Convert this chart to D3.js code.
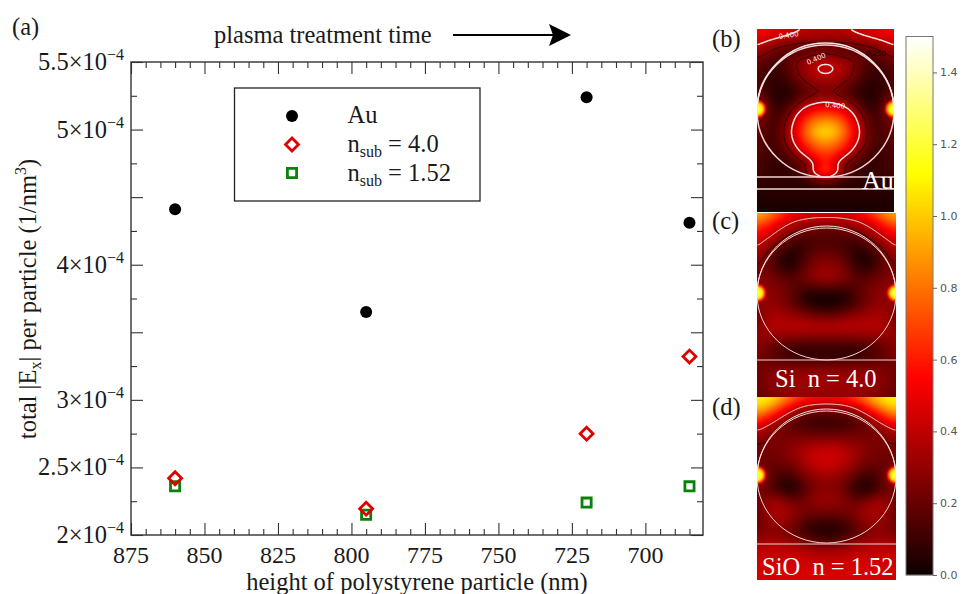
<!DOCTYPE html>
<html>
<head>
<meta charset="utf-8">
<script src="https://cdn.jsdelivr.net/npm/d3@7"></script>
<style>
  html, body { margin: 0; padding: 0; background: #fff; }
  svg { display: block; }
  text { font-family: "Liberation Serif", serif; fill: #1a1a1a; }
</style>
</head>
<body>
<div id="chart"></div>
<script>
// heights of the particle (nm), y values in units of 1e-4
const heights = [860, 795, 720, 685];
const au = [4.41, 3.65, 5.24, 4.31];
const nSub40 = [2.42, 2.195, 2.75, 3.32];
const nSub152 = [2.36, 2.15, 2.24, 2.36];

const xMajor = [875, 850, 825, 800, 775, 750, 725, 700];
const xMinor = [870, 865, 860, 855, 845, 840, 835, 830, 820, 815, 810, 805, 795, 790, 785, 780,
  770, 765, 760, 755, 745, 740, 735, 730, 720, 715, 710, 705, 695, 690, 685];
const yMajor = [2, 2.5, 3, 3.5, 4, 4.5, 5, 5.5];
const yMinor = [2.25, 2.75, 3.25, 3.75, 4.25, 4.75, 5.25];
const yLabelled = [2, 2.5, 3, 4, 5, 5.5];

const legendLabels = ["Au", "n", "n"];
const legendSubs = ["", "sub", "sub"];
const legendRest = ["", " = 4.0", " = 1.52"];

const barTicks = [0, 0.2, 0.4, 0.6, 0.8, 1.0, 1.2, 1.4];
const hotValues = [0, 0.0625, 0.5475, 1.119, 1.5];
const hotColors = ["#0a0000", "#2a0000", "#ff0000", "#ffff00", "#ffffff"];

// left half of each field map, edge to centre (the map is mirrored around the centre column)
const fieldB = [
  [.55,.53,.50,.47,.43,.40,.38,.37],
  [.50,.46,.42,.38,.34,.33,.33,.33],
  [.40,.33,.28,.25,.22,.20,.20,.20],
  [.30,.25,.18,.14,.15,.18,.20,.22],
  [.22,.16,.12,.16,.26,.31,.37,.39],
  [.18,.12,.10,.15,.25,.33,.41,.45],
  [.15,.10,.08,.12,.22,.30,.36,.38],
  [.16,.10,.06,.08,.15,.22,.28,.29],
  [.20,.10,.05,.05,.10,.18,.22,.24],
  [.35,.15,.06,.08,.17,.28,.34,.37],
  [.60,.20,.08,.14,.30,.45,.52,.55],
  [.40,.17,.12,.22,.42,.60,.72,.76],
  [.25,.15,.13,.28,.48,.72,.90,.95],
  [.20,.14,.14,.30,.52,.78,.98,1.05],
  [.18,.13,.14,.28,.47,.70,.85,.92],
  [.17,.12,.12,.22,.38,.58,.72,.76],
  [.15,.11,.10,.15,.26,.40,.58,.64],
  [.14,.10,.08,.10,.16,.22,.42,.62],
  [.12,.10,.08,.08,.10,.28,.50,.72],
  [.08,.08,.08,.08,.08,.08,.20,.30],
  [.06,.06,.06,.06,.06,.06,.06,.06],
  [.05,.05,.05,.05,.05,.05,.05,.05],
  [.04,.04,.04,.04,.04,.04,.04,.04],
  [.04,.04,.04,.04,.04,.04,.04,.04]
];
const fieldC = [
  [.95,.88,.75,.62,.52,.48,.46,.46],
  [.80,.70,.55,.44,.38,.36,.35,.35],
  [.62,.52,.42,.34,.28,.24,.20,.20],
  [.50,.42,.32,.22,.16,.15,.15,.15],
  [.42,.30,.22,.14,.10,.12,.14,.15],
  [.32,.24,.14,.05,.06,.14,.19,.21],
  [.26,.21,.10,.03,.07,.18,.25,.27],
  [.25,.22,.15,.07,.12,.22,.29,.32],
  [.26,.25,.20,.15,.17,.24,.31,.33],
  [.30,.27,.25,.21,.17,.17,.19,.21],
  [.45,.29,.27,.22,.14,.07,.05,.05],
  [.33,.29,.27,.22,.14,.05,.02,.02],
  [.25,.31,.32,.27,.20,.14,.09,.08],
  [.21,.33,.36,.33,.31,.29,.24,.24],
  [.24,.36,.38,.38,.38,.38,.36,.36],
  [.28,.33,.33,.33,.33,.33,.33,.33],
  [.29,.26,.24,.21,.20,.19,.19,.19],
  [.27,.21,.16,.12,.10,.09,.09,.09],
  [.25,.20,.16,.12,.09,.08,.08,.08],
  [.22,.22,.22,.22,.22,.22,.22,.22],
  [.22,.26,.28,.30,.30,.30,.30,.30],
  [.22,.26,.30,.32,.33,.33,.33,.33],
  [.20,.24,.28,.30,.32,.32,.32,.32],
  [.20,.22,.26,.28,.30,.30,.30,.30]
];
const fieldD = [
  [1.10,1.10,1.00,.85,.72,.62,.60,.58],
  [1.05,.98,.82,.62,.48,.40,.36,.35],
  [.85,.72,.55,.40,.28,.20,.18,.18],
  [.62,.50,.36,.24,.16,.12,.10,.10],
  [.42,.32,.24,.20,.18,.16,.14,.14],
  [.30,.26,.24,.24,.24,.24,.24,.24],
  [.24,.24,.24,.26,.30,.33,.36,.37],
  [.22,.22,.24,.26,.32,.38,.42,.43],
  [.22,.20,.22,.24,.30,.38,.42,.44],
  [.35,.20,.18,.18,.24,.32,.38,.40],
  [.60,.22,.14,.10,.16,.26,.30,.32],
  [.30,.20,.10,.04,.08,.20,.26,.28],
  [.22,.22,.16,.08,.10,.20,.28,.30],
  [.22,.30,.32,.24,.20,.24,.30,.30],
  [.20,.32,.36,.32,.26,.24,.26,.27],
  [.20,.30,.35,.32,.26,.20,.18,.17],
  [.20,.28,.30,.28,.20,.12,.08,.07],
  [.24,.28,.28,.24,.17,.10,.06,.05],
  [.30,.32,.32,.30,.26,.20,.14,.12],
  [.38,.40,.40,.38,.36,.32,.30,.30],
  [.42,.42,.42,.42,.42,.40,.38,.38],
  [.44,.45,.45,.45,.44,.44,.42,.42],
  [.45,.45,.46,.46,.46,.46,.46,.46],
  [.45,.45,.46,.46,.46,.46,.46,.46]
];
const hotSpot = [1.25, 1.2, 1.05, 0.6, 0.2];

const width = 966, height = 594;
const margin = { top: 62, right: 263, bottom: 59, left: 131 };
const serif = 24.5, small = 16;

const svg = d3.select("#chart").append("svg")
  .attr("width", width)
  .attr("height", height)
  .attr("viewBox", `0 0 ${width} ${height}`);

const x = d3.scaleLinear().domain([875, 680.4]).range([margin.left, width - margin.right]);
const y = d3.scaleLinear().domain([2, 5.5]).range([height - margin.bottom, margin.top]);
const hot = d3.scaleLinear().domain(hotValues).range(hotColors).clamp(true);

// ---- main plot ----
const frame = "#333";
function ticks(axis, scale, values, size, pos) {
  const g = svg.append("g")
    .attr("transform", pos)
    .call(axis(scale).tickValues(values).tickSize(size).tickFormat(""));
  g.select(".domain").remove();
  g.selectAll("line").attr("stroke", frame).attr("stroke-width", 1.1);
}
const bottom = height - margin.bottom, right = width - margin.right;
ticks(d3.axisBottom, x, xMajor, -12, `translate(0,${bottom})`);
ticks(d3.axisBottom, x, xMinor, -6, `translate(0,${bottom})`);
ticks(d3.axisTop, x, xMajor, -12, `translate(0,${margin.top})`);
ticks(d3.axisTop, x, xMinor, -6, `translate(0,${margin.top})`);
ticks(d3.axisLeft, y, yMajor, -12, `translate(${margin.left},0)`);
ticks(d3.axisLeft, y, yMinor, -6, `translate(${margin.left},0)`);
ticks(d3.axisRight, y, yMajor, -12, `translate(${right},0)`);
ticks(d3.axisRight, y, yMinor, -6, `translate(${right},0)`);

svg.append("rect")
  .attr("x", margin.left).attr("y", margin.top)
  .attr("width", right - margin.left).attr("height", bottom - margin.top)
  .attr("fill", "none").attr("stroke", frame).attr("stroke-width", 1.4);

svg.selectAll(".xlab").data(xMajor).enter().append("text")
  .attr("x", d => x(d)).attr("y", bottom + 27.5)
  .attr("text-anchor", "middle").attr("font-size", 24)
  .text(d => d);

yLabelled.forEach(d => {
  const t = svg.append("text")
    .attr("x", margin.left - 7).attr("y", y(d) + 8)
    .attr("text-anchor", "end").attr("font-size", serif);
  t.append("tspan").text(d + "\u00d710");
  t.append("tspan").attr("dy", -10).attr("font-size", small).text("\u22124");
});

svg.append("text")
  .attr("x", 417).attr("y", 589.5)
  .attr("text-anchor", "middle").attr("font-size", serif)
  .text("height of polystyrene particle (nm)");

const yTitle = svg.append("text")
  .attr("transform", "translate(36,299) rotate(-90)")
  .attr("text-anchor", "middle").attr("font-size", serif);
yTitle.append("tspan").text("total |E");
yTitle.append("tspan").attr("dy", 5).attr("font-size", small).text("x");
yTitle.append("tspan").attr("dy", -5).text("| per particle (1/nm");
yTitle.append("tspan").attr("dy", -10).attr("font-size", small).text("3");
yTitle.append("tspan").attr("dy", 10).text(")");

const red = "#e00000", green = "#0a820a";
const squarePath = d3.symbol().type(d3.symbolSquare).size(84);
const diamondPath = d3.symbol().type(d3.symbolSquare).size(84);
const drawCircle = (sel) => sel.append("circle").attr("r", 6).attr("fill", "#000");
const drawSquare = (sel) => sel.append("path").attr("d", squarePath)
  .attr("fill", "none").attr("stroke", green).attr("stroke-width", 2.8);
const drawDiamond = (sel) => sel.append("path").attr("d", diamondPath)
  .attr("fill", "none").attr("stroke", red).attr("stroke-width", 2.8).attr("transform", "rotate(45)");

function series(values, draw) {
  svg.append("g").selectAll("g").data(values).enter().append("g")
    .attr("transform", (d, i) => `translate(${x(heights[i])},${y(d)})`)
    .call(draw);
}
series(au, drawCircle);
series(nSub152, drawSquare);
series(nSub40, drawDiamond);

// ---- legend ----
const legend = svg.append("g").attr("transform", "translate(234.5,88)");
legend.append("rect").attr("width", 245.5).attr("height", 113)
  .attr("fill", "#fff").attr("stroke", "#222").attr("stroke-width", 1.3);
[drawCircle, drawDiamond, drawSquare].forEach((draw, i) => {
  const row = legend.append("g").attr("transform", `translate(57.5,${28 + i * 28.5})`);
  row.call(draw);
  const t = legend.append("text").attr("x", 113).attr("y", 35 + i * 29).attr("font-size", serif);
  t.append("tspan").text(legendLabels[i]);
  if (legendSubs[i]) {
    t.append("tspan").attr("dy", 5).attr("font-size", small).text(legendSubs[i]);
    t.append("tspan").attr("dy", -5).text(legendRest[i]);
  }
});

// ---- annotations ----
svg.append("text").attr("x", 12).attr("y", 35).attr("font-size", serif).text("(a)");
svg.append("text").attr("x", 214).attr("y", 43).attr("font-size", serif).text("plasma treatment time");
svg.append("line").attr("x1", 453).attr("x2", 555).attr("y1", 35).attr("y2", 35)
  .attr("stroke", "#000").attr("stroke-width", 2);
svg.append("path").attr("d", "M571,35 L549,24 L553,35 L549,46 Z").attr("fill", "#000");
svg.append("text").attr("x", 712).attr("y", 47).attr("font-size", serif).text("(b)");
svg.append("text").attr("x", 712).attr("y", 229).attr("font-size", serif).text("(c)");
svg.append("text").attr("x", 712).attr("y", 415).attr("font-size", serif).text("(d)");

// ---- field maps ----
const panels = [
  { id: "b", field: fieldB, x: 757, y: 29, w: 137, h: 183, cy: 111, rx: 68.5, ry: 66, shell: 68, lw: 1.5,
    lines: [177, 189], spotY: 109, inside: true },
  { id: "c", field: fieldC, x: 757, y: 213, w: 139, h: 184, cy: 294, rx: 69.5, ry: 66, shell: 68, lw: 1,
    lines: [360], spotY: 293, inside: false },
  { id: "d", field: fieldD, x: 757, y: 397, w: 139, h: 183, cy: 477, rx: 69.5, ry: 66, shell: 68, lw: 1,
    lines: [544], spotY: 475, inside: false }
];

function fieldGrid(half, w, h) {
  const rows = half.map(r => r.concat(r.slice(0, -1).reverse()));
  const gx = d3.scaleLinear().domain([0, w - 1]).range([0, rows[0].length - 1]);
  const gy = d3.scaleLinear().domain([0, h - 1]).range([0, rows.length - 1]);
  const data = new Float64Array(w * h);
  for (let j = 0; j < h; j++) {
    const v = gy(j), j0 = Math.min(Math.floor(v), rows.length - 2), fy = v - j0;
    for (let i = 0; i < w; i++) {
      const u = gx(i), i0 = Math.min(Math.floor(u), rows[0].length - 2), fx = u - i0;
      data[j * w + i] = (1 - fy) * ((1 - fx) * rows[j0][i0] + fx * rows[j0][i0 + 1])
        + fy * ((1 - fx) * rows[j0 + 1][i0] + fx * rows[j0 + 1][i0 + 1]);
    }
  }
  d3.blur2({ data, width: w, height: h }, 3);
  return data;
}

// contour rings close along the map edge, those edge pieces are not drawn
function openRings(geo, w, h) {
  const onEdge = p => p[0] <= 0.6 || p[1] <= 0.6 || p[0] >= w - 0.6 || p[1] >= h - 0.6;
  let d = "";
  geo.coordinates.forEach(poly => poly.forEach(ring => {
    let pen = false;
    ring.forEach((p, i) => {
      if (i > 0 && onEdge(p) && onEdge(ring[i - 1])) pen = false;
      if (onEdge(p) && !pen && i < ring.length - 1 && onEdge(ring[i + 1])) return;
      d += (pen ? "L" : "M") + p[0] + "," + p[1];
      pen = true;
    });
  }));
  return d;
}

const defs = svg.append("defs");
panels.forEach(p => {
  const data = fieldGrid(p.field, p.w, p.h);
  const canvas = document.createElement("canvas");
  canvas.width = p.w; canvas.height = p.h;
  const ctx = canvas.getContext("2d");
  const img = ctx.createImageData(p.w, p.h);
  data.forEach((v, i) => {
    const c = d3.rgb(hot(v));
    img.data.set([c.r, c.g, c.b, 255], i * 4);
  });
  ctx.putImageData(img, 0, 0);

  defs.append("clipPath").attr("id", "clip-" + p.id).append("rect")
    .attr("x", p.x).attr("y", p.y).attr("width", p.w).attr("height", p.h);
  const g = svg.append("g").attr("clip-path", `url(#clip-${p.id})`);
  g.append("image").attr("x", p.x).attr("y", p.y).attr("width", p.w).attr("height", p.h)
    .attr("href", canvas.toDataURL());

  // c and d only show their contours above the particle
  const cx = p.x + p.w / 2;
  const lineGroup = g.append("g");
  if (!p.inside) {
    const top = p.cy - p.y;
    defs.append("clipPath").attr("id", "above-" + p.id).append("path")
      .attr("clip-rule", "evenodd")
      .attr("d", `M${p.x},${p.y} h${p.w} v${top} h${-p.w} Z ` +
        `M${cx - p.rx},${p.cy} A${p.rx},${p.shell} 0 0 1 ${cx + p.rx},${p.cy} Z`);
    lineGroup.attr("clip-path", `url(#above-${p.id})`);
  }
  const contours = d3.contours().size([p.w, p.h]).thresholds([0.25, 0.4])(Array.from(data));
  contours.forEach(c => {
    lineGroup.append("path").attr("transform", `translate(${p.x},${p.y})`)
      .attr("d", openRings(c, p.w, p.h)).attr("fill", "none")
      .attr("stroke", c.value === 0.4 ? "#f6e3e3" : "#1a0000")
      .attr("stroke-width", c.value === 0.4 ? p.lw : 0.8);
  });

  // bright spots where the particle touches the map edge
  const grad = defs.append("radialGradient").attr("id", "spot-" + p.id);
  hotSpot.forEach((v, i) => {
    grad.append("stop").attr("offset", i / (hotSpot.length - 1))
      .attr("stop-color", hot(v)).attr("stop-opacity", i === hotSpot.length - 1 ? 0 : 1);
  });
  [p.x, p.x + p.w].forEach(sx => {
    g.append("circle").attr("cx", sx).attr("cy", p.spotY).attr("r", 11)
      .attr("fill", `url(#spot-${p.id})`);
  });

  g.append("ellipse").attr("cx", cx).attr("cy", p.cy).attr("rx", p.rx).attr("ry", p.ry)
    .attr("fill", "none").attr("stroke", "#f3d5d5").attr("stroke-width", p.lw);
  g.append("path")
    .attr("d", `M${p.x},${p.cy} A${p.w / 2},${p.shell} 0 0 1 ${p.x + p.w},${p.cy}`)
    .attr("fill", "none").attr("stroke", "#f8e6e6").attr("stroke-width", p.lw);
  p.lines.forEach(ly => {
    g.append("line").attr("x1", p.x).attr("x2", p.x + p.w).attr("y1", ly).attr("y2", ly)
      .attr("stroke", "#f3d5d5").attr("stroke-width", p.lw);
  });
});

// materials written on the maps
function mapLabel(label, px, py, size) {
  svg.append("text").attr("x", px).attr("y", py).attr("font-size", size)
    .style("fill", "#fff").text(label);
}
mapLabel("Au", 862, 189, 26);
mapLabel("Si\u00a0\u00a0n = 4.0", 775, 387, 24.5);
mapLabel("SiO\u00a0\u00a0n = 1.52", 762, 575, 24.5);

// contour labels
function contourLabel(label, px, py, angle, colour) {
  svg.append("text").attr("transform", `translate(${px},${py}) rotate(${angle})`)
    .attr("font-size", 7).style("font-family", "DejaVu Sans").style("fill", colour).text(label);
}
contourLabel("0.400", 779, 39, -8, "#fbeeee");
contourLabel("0.400", 808, 65, -24, "#fbeeee");
contourLabel("0.400", 825, 107, 5, "#fbeeee");
contourLabel("0.250", 866, 56, 0, "#1a0000");

// ---- colour bar ----
const bar = d3.scaleLinear().domain([0, 1.5]).range([575, 36.5]);
svg.append("g").selectAll("rect").data(d3.range(36, 575)).enter().append("rect")
  .attr("x", 906).attr("y", d => d).attr("width", 27).attr("height", 1.2)
  .attr("fill", d => hot(bar.invert(d)));
svg.append("rect").attr("x", 906).attr("y", 36.5).attr("width", 27).attr("height", 538.5)
  .attr("fill", "none").attr("stroke", "#777").attr("stroke-width", 1);
const barAxis = svg.append("g").attr("transform", "translate(933,0)")
  .call(d3.axisRight(bar).tickValues(barTicks).tickSize(4).tickFormat(d3.format(".1f")));
barAxis.select(".domain").remove();
barAxis.selectAll("line").attr("stroke", "#666");
barAxis.selectAll("text").attr("font-size", 11)
  .style("font-family", "DejaVu Sans").style("fill", "#555");
</script>
</body>
</html>
